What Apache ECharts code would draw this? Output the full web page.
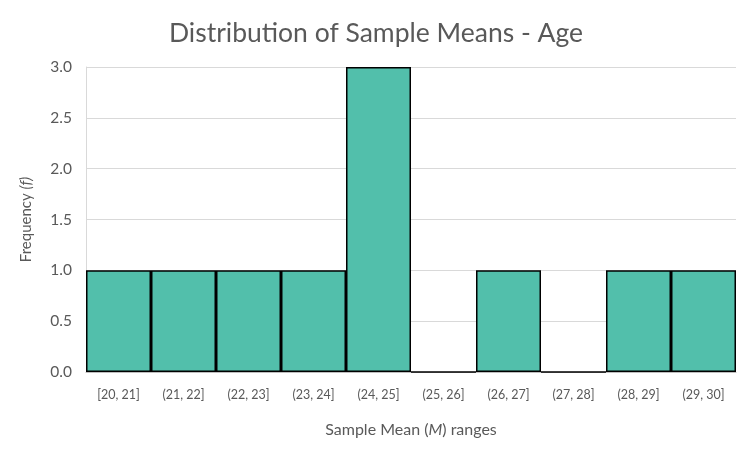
<!DOCTYPE html>
<html><head><meta charset="utf-8">
<script src="https://cdn.jsdelivr.net/npm/echarts@6/dist/echarts.min.js"></script>
<style>html,body{margin:0;padding:0;background:#fff}#c{width:752px;height:452px}</style>
</head><body><div id="c"></div>
<script>
const categories = ['[20, 21]','(21, 22]','(22, 23]','(23, 24]','(24, 25]','(25, 26]','(26, 27]','(27, 28]','(28, 29]','(29, 30]'];
const frequencies = [1, 1, 1, 1, 3, 0, 1, 0, 1, 1];
const yTicks = {min: 0, max: 3, interval: 0.5};

const chart = echarts.init(document.getElementById('c'), null, {renderer: 'canvas'});
const FONT = 'Lato, "Open Sans", sans-serif';
chart.setOption({
  animation: false,
  title: {
    text: 'Distribution of Sample Means - Age',
    left: 'center', top: 15,
    textStyle: {fontFamily: FONT, fontSize: 26.5, fontWeight: 'normal', color: '#595959'}
  },
  grid: {left: 86, right: 16, top: 67, bottom: 80},
  xAxis: {
    type: 'category', data: categories,
    axisTick: {show: false},
    axisLine: {lineStyle: {color: '#bfbfbf', width: 1}},
    axisLabel: {fontFamily: FONT, fontSize: 12.5, color: '#595959', margin: 16, interval: 0},
    name: 'Sample Mean ({i|M}) ranges',
    nameLocation: 'middle', nameGap: 50,
    nameTextStyle: {fontFamily: FONT, fontSize: 16, color: '#595959',
      rich: {i: {fontFamily: FONT, fontSize: 16, color: '#595959', fontStyle: 'italic'}}}
  },
  yAxis: {
    type: 'value', min: yTicks.min, max: yTicks.max, interval: yTicks.interval,
    axisLine: {show: true, lineStyle: {color: '#d9d9d9'}},
    axisTick: {show: false},
    splitLine: {lineStyle: {color: '#d9d9d9', width: 1}},
    axisLabel: {fontFamily: FONT, fontSize: 15.5, color: '#595959', margin: 14,
      formatter: v => v.toFixed(1)},
    name: 'Frequency {i|(f)}',
    nameLocation: 'middle', nameGap: 52,
    nameTextStyle: {fontFamily: FONT, fontSize: 15, color: '#595959',
      rich: {i: {fontFamily: FONT, fontSize: 15, color: '#595959', fontStyle: 'italic'}}}
  },
  series: [{
    type: 'bar', data: frequencies,
    barCategoryGap: '0%',
    itemStyle: {color: '#52bfab', borderColor: '#000', borderWidth: 1.5}
  }]
});
</script></body></html>
